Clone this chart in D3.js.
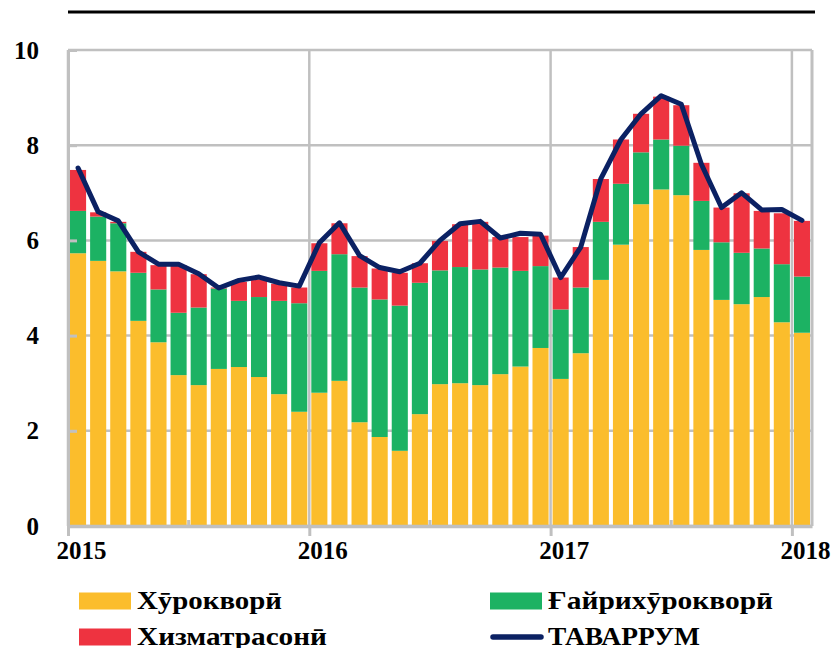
<!DOCTYPE html>
<html>
<head>
<meta charset="utf-8">
<script src="https://cdn.jsdelivr.net/npm/d3@7"></script>
<style>
body { margin: 0; background: #fff; }
svg { display: block; font-family: "Liberation Serif", "DejaVu Serif", serif; font-weight: bold; }
</style>
</head>
<body>
<svg id="chart" width="834" height="648"></svg>
<script>
// monthly, Jan 2015 .. Jan 2018
var food = [5.73, 5.57, 5.35, 4.31, 3.86, 3.17, 2.96, 3.30, 3.34, 3.13, 2.77, 2.40,
	2.80, 3.05, 2.18, 1.87, 1.58, 2.35, 2.98, 3.00, 2.96, 3.19, 3.35, 3.74,
	3.09, 3.63, 5.17, 5.91, 6.76, 7.07, 6.95, 5.80, 4.75, 4.66, 4.81, 4.28, 4.06];
var nonfood = [0.89, 0.93, 1.01, 1.01, 1.11, 1.31, 1.63, 1.69, 1.39, 1.68, 1.96, 2.28,
	2.56, 2.66, 2.83, 2.89, 3.05, 2.76, 2.39, 2.44, 2.43, 2.24, 2.01, 1.72,
	1.46, 1.38, 1.22, 1.28, 1.09, 1.05, 1.04, 1.03, 1.21, 1.08, 1.02, 1.22, 1.18];
var services = [0.86, 0.09, 0.03, 0.44, 0.51, 1.00, 0.70, 0.02, 0.40, 0.37, 0.36, 0.33,
	0.58, 0.65, 0.66, 0.65, 0.69, 0.41, 0.62, 0.90, 1.00, 0.64, 0.71, 0.64,
	0.67, 0.85, 0.90, 0.93, 0.81, 0.90, 0.85, 0.80, 0.73, 1.25, 0.79, 1.07, 1.17];
var inflation = [7.52, 6.60, 6.41, 5.76, 5.50, 5.50, 5.30, 5.00, 5.16, 5.23, 5.11, 5.04,
	5.95, 6.37, 5.68, 5.43, 5.34, 5.52, 6.00, 6.35, 6.40, 6.05, 6.15, 6.13,
	5.22, 5.86, 7.30, 8.12, 8.66, 9.04, 8.86, 7.60, 6.69, 7.00, 6.64, 6.65, 6.42];
var yearTicks = [2015, 2016, 2017, 2018];
var yTicks = [0, 2, 4, 6, 8, 10];
var seriesNames = ["Хӯрокворӣ", "Ғайрихӯрокворӣ", "Хизматрасонӣ", "ТАВАРРУМ"];
var colors = ["#fbbd2c", "#1cb263", "#ee3340"];

var svg = d3.select("#chart");
var plotLeft = 68, plotRight = 812, plotTop = 50, plotBottom = 526;
var gridColor = "#c0c0c0";

var months = d3.range(food.length);
var x = d3.scaleBand().domain(months).range([plotLeft, plotRight]).paddingInner(0.2).paddingOuter(0.1);
var xm = d3.scaleLinear().domain([0, months.length]).range([plotLeft, plotRight]);
var y = d3.scaleLinear().domain([0, 10]).range([plotBottom, plotTop]);

// top rule
svg.append("line").attr("x1", 68).attr("x2", 815).attr("y1", 12).attr("y2", 12)
	.attr("stroke", "#000").attr("stroke-width", 3);

// horizontal grid
svg.append("g").selectAll("line").data(yTicks).join("line")
	.attr("x1", plotLeft).attr("x2", plotRight)
	.attr("y1", function(d) { return y(d); }).attr("y2", function(d) { return y(d); })
	.attr("stroke", gridColor).attr("stroke-width", 2.5);

// vertical grid at years
svg.append("g").selectAll("line").data(yearTicks).join("line")
	.attr("x1", function(d) { return xm((d - 2015) * 12); })
	.attr("x2", function(d) { return xm((d - 2015) * 12); })
	.attr("y1", plotTop).attr("y2", plotBottom)
	.attr("stroke", gridColor).attr("stroke-width", 2.5);
svg.append("line").attr("x1", plotRight).attr("x2", plotRight).attr("y1", plotTop).attr("y2", plotBottom)
	.attr("stroke", gridColor).attr("stroke-width", 3);

// stacked bars
var rows = months.map(function(i) { return { i: i, food: food[i], nonfood: nonfood[i], services: services[i] }; });
var stack = d3.stack().keys(["food", "nonfood", "services"])(rows);
svg.append("g").selectAll("g").data(stack).join("g")
	.attr("fill", function(d, k) { return colors[k]; })
	.selectAll("rect").data(function(d) { return d; }).join("rect")
	.attr("x", function(d) { return x(d.data.i); })
	.attr("width", x.bandwidth())
	.attr("y", function(d) { return y(d[1]); })
	.attr("height", function(d) { return y(d[0]) - y(d[1]); });

// y axis
var yAxis = d3.axisLeft(y).tickValues(yTicks).tickSize(-9).tickSizeOuter(0).tickPadding(29).tickFormat(d3.format("d"));
var gy = svg.append("g").attr("transform", "translate(" + plotLeft + ",0)").call(yAxis);
gy.select(".domain").attr("stroke", gridColor).attr("stroke-width", 3);
gy.selectAll(".tick line").attr("stroke", gridColor).attr("stroke-width", 3);
gy.selectAll(".tick text").attr("font-size", 25).attr("fill", "#000")
	.attr("font-family", "Liberation Serif").attr("font-weight", "bold");

// x axis: years below, half years inside; labels sit on the January bar
var xAxis = d3.axisBottom(xm).tickValues(yearTicks.map(function(d) { return (d - 2015) * 12; }))
	.tickSize(10).tickSizeOuter(0).tickPadding(5).tickFormat(function(d) { return 2015 + d / 12; });
var gx = svg.append("g").attr("transform", "translate(0," + plotBottom + ")").call(xAxis);
gx.select(".domain").attr("stroke", gridColor).attr("stroke-width", 3.5);
gx.selectAll(".tick line").attr("stroke", gridColor).attr("stroke-width", 3);
gx.selectAll(".tick text").attr("font-size", 25).attr("fill", "#000")
	.attr("dx", x.step() / 2 + 3)
	.attr("font-family", "Liberation Serif").attr("font-weight", "bold");
svg.append("g").selectAll("line").data([6, 18, 30]).join("line")
	.attr("x1", function(d) { return xm(d); }).attr("x2", function(d) { return xm(d); })
	.attr("y1", plotBottom).attr("y2", plotBottom - 6)
	.attr("stroke", gridColor).attr("stroke-width", 3);

// headline inflation line
var line = d3.line()
	.x(function(d, i) { return x(i) + x.bandwidth() / 2; })
	.y(function(d) { return y(d); });
svg.append("path").datum(inflation)
	.attr("d", line)
	.attr("fill", "none").attr("stroke", "#0b2163").attr("stroke-width", 5)
	.attr("stroke-linejoin", "round").attr("stroke-linecap", "round");

// legend
var legend = [
	{ name: seriesNames[0], kind: "rect", color: colors[0], x: 79, y: 601, w: 145 },
	{ name: seriesNames[1], kind: "rect", color: colors[1], x: 490, y: 601, w: 225 },
	{ name: seriesNames[2], kind: "rect", color: colors[2], x: 79, y: 637, w: 190 },
	{ name: seriesNames[3], kind: "line", color: "#0b2163", x: 490, y: 637, w: 152 }
];
var lg = svg.append("g").selectAll("g").data(legend).join("g")
	.attr("transform", function(d) { return "translate(" + d.x + "," + d.y + ")"; });
lg.filter(function(d) { return d.kind === "rect"; }).append("rect")
	.attr("x", 0).attr("y", -8.5).attr("width", 52).attr("height", 17)
	.attr("fill", function(d) { return d.color; });
lg.filter(function(d) { return d.kind === "line"; }).append("line")
	.attr("x1", 3).attr("x2", 51).attr("y1", 0).attr("y2", 0)
	.attr("stroke", function(d) { return d.color; }).attr("stroke-width", 5.5)
	.attr("stroke-linecap", "round");
lg.append("text")
	.attr("x", 58).attr("y", 8)
	.attr("font-size", 25).attr("fill", "#000")
	.attr("textLength", function(d) { return d.w; })
	.attr("lengthAdjust", "spacingAndGlyphs")
	.text(function(d) { return d.name; });
</script>
</body>
</html>
